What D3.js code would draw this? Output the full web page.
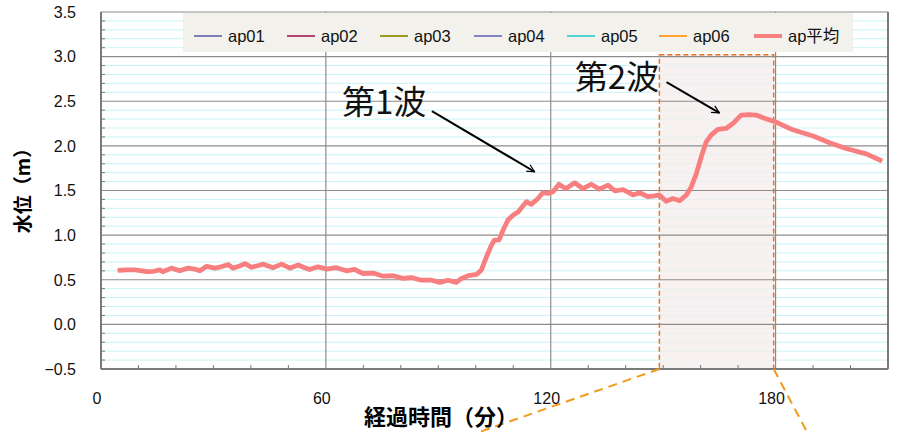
<!DOCTYPE html>
<html>
<head>
<meta charset="utf-8">
<script src="https://cdn.jsdelivr.net/npm/d3@7"></script>
<style>
  body { margin: 0; background: #fff; }
  svg text { font-family: "Liberation Sans", "Noto Sans CJK JP", sans-serif; }
</style>
</head>
<body>
<div id="chart"></div>
<script>
// 経過時間 (分)
const time = [4.5, 7, 9, 11, 12.2, 14, 15.7, 16.5, 18.8, 21, 23.2, 25, 26.4, 28.2, 30.4, 32, 34, 35.2, 37, 38.4,
    40.2, 42, 43.3, 45.9, 47, 48.2, 50.4, 52.6, 54, 55.7, 57.9, 60.2, 62.8, 65.5, 67.7, 69.9, 72.6, 75.3, 77.9, 80.6,
    82.8, 85.5, 88.2, 90.4, 92.6, 94.8, 96.2, 98, 100.2, 101.5, 102.8, 104.2, 105, 106.2, 107.3, 108.6, 110, 111.3,
    113.5, 114.8, 116.6, 117.9, 119.3, 120.6, 122.2, 124, 126.4, 128.6, 130.8, 133, 135.3, 137.1, 139.3, 142, 143.7,
    146, 147.7, 149, 150.8, 152.6, 154.4, 156.2, 157.5, 158.8, 160.2, 161.5, 162.8, 164.6, 166.8, 168.6, 170.8, 173,
    174.8, 177, 179.9, 184.6, 190, 194.4, 198.8, 204.2, 208.4];

// 水位 (m) ap平均
const apAvg = [0.605, 0.61, 0.61, 0.6, 0.59, 0.595, 0.61, 0.59, 0.63, 0.6, 0.63, 0.62, 0.6, 0.65, 0.63, 0.645, 0.67, 0.63, 0.655, 0.68,
    0.64, 0.66, 0.675, 0.635, 0.655, 0.675, 0.63, 0.665, 0.64, 0.615, 0.645, 0.62, 0.635, 0.6, 0.615, 0.57, 0.575, 0.54, 0.545, 0.515,
    0.525, 0.495, 0.495, 0.47, 0.495, 0.47, 0.515, 0.545, 0.56, 0.61, 0.75, 0.89, 0.945, 0.945, 1.057, 1.17, 1.225, 1.26,
    1.375, 1.345, 1.41, 1.475, 1.467, 1.485, 1.57, 1.52, 1.586, 1.52, 1.57, 1.515, 1.56, 1.497, 1.51, 1.45, 1.475,
    1.43, 1.44, 1.45, 1.38, 1.41, 1.385, 1.45, 1.54, 1.68, 1.88, 2.045, 2.12, 2.185, 2.195, 2.25, 2.345, 2.35,
    2.345, 2.31, 2.27, 2.18, 2.11, 2.035, 1.97, 1.91, 1.83];

// the individual gauges sit on the average everywhere at this scale
const ap01 = apAvg, ap02 = apAvg, ap03 = apAvg, ap04 = apAvg, ap05 = apAvg, ap06 = apAvg;

const seriesNames = ["ap01", "ap02", "ap03", "ap04", "ap05", "ap06", "ap平均"];
const seriesValues = [ap01, ap02, ap03, ap04, ap05, ap06, apAvg];
const seriesColors = ["#7b7fb8", "#b0456e", "#9c9a1c", "#8383c2", "#4fd3d3", "#ffa22e", "#f77f7f"];

const xTicks = [0, 60, 120, 180];
const yTicks = [-0.5, 0, 0.5, 1, 1.5, 2, 2.5, 3, 3.5];

const zoomWindow = [149, 179.5];   // 分
const zoomTop = 3.02;

const W = 905, H = 432;
const MARGIN = { left: 101, right: 17, top: 12, bottom: 63 };
const width = W - MARGIN.left - MARGIN.right;
const height = H - MARGIN.top - MARGIN.bottom;

const svg = d3.select("#chart").append("svg")
    .attr("width", W)
    .attr("height", H);

const g = svg.append("g")
    .attr("transform", `translate(${MARGIN.left}, ${MARGIN.top})`);

const x = d3.scaleLinear().domain([0, 210]).range([0, width]);
const y = d3.scaleLinear().domain([-0.5, 3.5]).range([height, 0]);

// minor gridlines every 0.1 m
const minorY = d3.range(-0.5, 3.5001, 0.1).filter(v => Math.abs(Math.round(v * 2) - v * 2) > 0.01);
g.append("g").selectAll("line")
    .data(minorY)
    .join("line")
    .attr("x1", 0).attr("x2", width)
    .attr("y1", d => y(d)).attr("y2", d => y(d))
    .attr("stroke", "#c9f3f5")
    .attr("stroke-width", 1);

// zoom window shading
g.append("rect")
    .attr("x", x(zoomWindow[0]))
    .attr("y", y(zoomTop))
    .attr("width", x(zoomWindow[1]) - x(zoomWindow[0]))
    .attr("height", height - y(zoomTop))
    .attr("fill", "#f4eeec")
    .attr("fill-opacity", 0.75);

// major gridlines
g.append("g").selectAll("line")
    .data(yTicks.slice(1, -1))
    .join("line")
    .attr("x1", 0).attr("x2", width)
    .attr("y1", d => y(d)).attr("y2", d => y(d))
    .attr("stroke", "#8c8c8c")
    .attr("stroke-width", 1.2);

g.append("g").selectAll("line")
    .data(xTicks.slice(1))
    .join("line")
    .attr("x1", d => x(d)).attr("x2", d => x(d))
    .attr("y1", 0).attr("y2", height)
    .attr("stroke", "#8c8c8c")
    .attr("stroke-width", 1.2);

// minor ticks
g.append("g").selectAll("line")
    .data(minorY)
    .join("line")
    .attr("x1", 0).attr("x2", 4)
    .attr("y1", d => y(d)).attr("y2", d => y(d))
    .attr("stroke", "#777");

g.append("g").selectAll("line")
    .data(d3.range(10, 210, 10).filter(d => d % 60))
    .join("line")
    .attr("x1", d => x(d)).attr("x2", d => x(d))
    .attr("y1", height).attr("y2", height - 4)
    .attr("stroke", "#777");

// zoom window border
g.append("rect")
    .attr("x", x(zoomWindow[0]))
    .attr("y", y(zoomTop))
    .attr("width", x(zoomWindow[1]) - x(zoomWindow[0]))
    .attr("height", height - y(zoomTop))
    .attr("fill", "none")
    .attr("stroke", "#e8731c")
    .attr("stroke-width", 1.5)
    .attr("stroke-dasharray", "5,3");

// series
const line = d3.line()
    .x((d, i) => x(time[i]))
    .y(d => y(d));

g.append("g").selectAll("path")
    .data(seriesValues)
    .join("path")
    .attr("d", d => line(d))
    .attr("fill", "none")
    .attr("stroke", (d, i) => seriesColors[i])
    .attr("stroke-width", (d, i) => i === 6 ? 4.8 : 1.5)
    .attr("stroke-linejoin", "round");

// plot frame
g.append("rect")
    .attr("width", width).attr("height", height)
    .attr("fill", "none")
    .attr("stroke", "#8a8a8a")
    .attr("stroke-width", 1);
g.append("line")
    .attr("x1", 0).attr("x2", 0).attr("y1", 0).attr("y2", height)
    .attr("stroke", "#7a7a7a").attr("stroke-width", 2);
g.append("line")
    .attr("x1", 0).attr("x2", width).attr("y1", height).attr("y2", height)
    .attr("stroke", "#7a7a7a").attr("stroke-width", 2);
g.append("line")
    .attr("x1", width).attr("x2", width).attr("y1", 0).attr("y2", height)
    .attr("stroke", "#7a7a7a").attr("stroke-width", 2);

// tick labels
g.append("g").selectAll("text")
    .data(yTicks)
    .join("text")
    .attr("x", -25)
    .attr("y", d => y(d))
    .attr("dy", "0.36em")
    .attr("text-anchor", "end")
    .style("font-size", "16px")
    .attr("fill", "#111")
    .text(d => d < 0 ? "\u2212" + d3.format(".1f")(-d) : d3.format(".1f")(d));

g.append("g").selectAll("text")
    .data(xTicks)
    .join("text")
    .attr("x", d => x(d) - 4)
    .attr("y", height + 35)
    .attr("text-anchor", "middle")
    .style("font-size", "16px")
    .attr("fill", "#111")
    .text(d => d);

// axis titles
svg.append("text")
    .attr("x", 441)
    .attr("y", 425)
    .attr("text-anchor", "middle")
    .style("font-family", "'Noto Sans CJK JP'")
    .style("font-size", "22px")
    .style("font-weight", "bold")
    .text("経過時間（分）");

svg.append("text")
    .attr("transform", "translate(30, 186) rotate(-90)")
    .attr("text-anchor", "middle")
    .style("font-family", "'Noto Sans CJK JP'")
    .style("font-size", "19px")
    .style("font-weight", "bold")
    .text("水位（m）");

// legend
const legend = svg.append("g").attr("transform", "translate(183, 13)");
legend.append("rect")
    .attr("width", 670).attr("height", 39)
    .attr("fill", "#f3f1ec");
const legendX = [11, 104, 197, 291, 384, 476, 571];
const item = legend.selectAll("g.item")
    .data(seriesNames)
    .join("g")
    .attr("class", "item")
    .attr("transform", (d, i) => `translate(${legendX[i]}, 23)`);
item.append("line")
    .attr("x1", 0).attr("x2", 28)
    .attr("stroke", (d, i) => seriesColors[i])
    .attr("stroke-width", (d, i) => i === 6 ? 4 : 2);
item.append("text")
    .attr("x", 34)
    .attr("dy", "0.36em")
    .style("font-size", "16.5px")
    .attr("fill", "#111")
    .text(d => d);

// annotations
svg.append("defs").append("marker")
    .attr("id", "arrow")
    .attr("viewBox", "0 0 12 12")
    .attr("refX", 11).attr("refY", 6)
    .attr("markerWidth", 9).attr("markerHeight", 9)
    .attr("markerUnits", "userSpaceOnUse")
    .attr("orient", "auto")
    .append("path")
    .attr("d", "M1,1 L11,6 L1,11")
    .attr("fill", "none")
    .attr("stroke", "#000")
    .attr("stroke-width", 1.6);

const notes = [
    { label: "第1波", tx: 64.3, tv: 2.36, from: [88.3, 2.39], to: [115.7, 1.71] },
    { label: "第2波", tx: 126.4, tv: 2.64, from: [150.9, 2.715], to: [165, 2.37] }
];
notes.forEach(n => {
    g.append("text")
        .attr("x", x(n.tx))
        .attr("y", y(n.tv))
        .style("font-family", "'Noto Sans CJK JP'")
        .style("font-size", "33px")
        .attr("fill", "#111")
        .text(n.label);
    g.append("line")
        .attr("x1", x(n.from[0])).attr("y1", y(n.from[1]))
        .attr("x2", x(n.to[0])).attr("y2", y(n.to[1]))
        .attr("stroke", "#000")
        .attr("stroke-width", 2)
        .attr("marker-end", "url(#arrow)");
});

// connector lines toward the enlarged view
g.append("line")
    .attr("x1", x(zoomWindow[0])).attr("y1", height)
    .attr("x2", x(zoomWindow[0]) - 200).attr("y2", height + 70)
    .attr("stroke", "#f39a1c").attr("stroke-width", 2)
    .attr("stroke-dasharray", "9,6");
g.append("line")
    .attr("x1", x(zoomWindow[1])).attr("y1", height)
    .attr("x2", x(zoomWindow[1]) + 37).attr("y2", height + 70)
    .attr("stroke", "#f39a1c").attr("stroke-width", 2)
    .attr("stroke-dasharray", "9,6");
</script>
</body>
</html>
